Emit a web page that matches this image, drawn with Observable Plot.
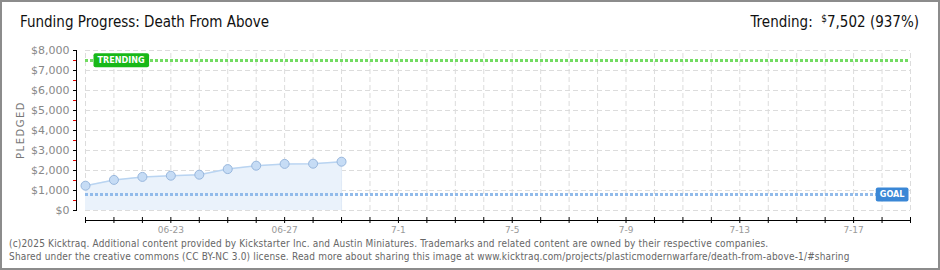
<!DOCTYPE html>
<html>
<head>
<meta charset="utf-8">
<script src="https://cdn.jsdelivr.net/npm/d3@7"></script>
<script src="https://cdn.jsdelivr.net/npm/@observablehq/plot@0.6"></script>
<style>
  html, body { margin: 0; padding: 0; background: #fff; }
  #wrap { position: relative; width: 940px; height: 270px; overflow: hidden; background: #fff; }
  #border { position: absolute; left: 0; top: 0; width: 940px; height: 270px; box-sizing: border-box; border: 2px solid #8c8c8c; pointer-events: none; }
  #title { position: absolute; left: 20px; top: 13px; line-height: 20px; font: 15px "DejaVu Sans Condensed", sans-serif; color: #111; white-space: nowrap; }
  #trend { position: absolute; right: 21px; top: 13px; line-height: 20px; font: 15px "DejaVu Sans Condensed", sans-serif; color: #111; white-space: nowrap; }
  #trend sup { font-size: 10px; vertical-align: 5px; line-height: 0; }
  #chart { position: absolute; left: 0; top: 40px; }
  #ylabel { position: absolute; left: 20px; top: 130px; transform: translate(-50%, -50%) rotate(-90deg); font: 10px "DejaVu Sans", sans-serif; color: #777; letter-spacing: 1.5px; white-space: nowrap; }
  #footer { position: absolute; left: 9px; top: 237px; font: 10px "DejaVu Sans Condensed", sans-serif; color: #666; line-height: 13px; white-space: nowrap; letter-spacing: 0.17px; }
</style>
</head>
<body>
<div id="wrap">
  <div id="title"></div>
  <div id="trend"></div>
  <div id="chart"></div>
  <div id="ylabel"></div>
  <div id="footer"></div>
  <div id="border"></div>
</div>
<script>
// ---- data ----
const dates = ["2025-06-20","2025-06-21","2025-06-22","2025-06-23","2025-06-24","2025-06-25","2025-06-26","2025-06-27","2025-06-28","2025-06-29"];
const pledged = [1240, 1530, 1680, 1740, 1790, 2070, 2240, 2330, 2340, 2440];
const trendingValue = 7502;
const trendingPct = "937%";
const goalValue = 800;
const xStartStr = "2025-06-20";
const xEndStr = "2025-07-19";
const labelDates = ["2025-06-23","2025-06-27","2025-07-01","2025-07-05","2025-07-09","2025-07-13","2025-07-17"];
const tickLabels = ["06-23","06-27","7-1","7-5","7-9","7-13","7-17"];
const yTicks = [0,1000,2000,3000,4000,5000,6000,7000,8000];
const yMinorTicks = [500,1500,2500,3500,4500,5500,6500,7500];
const titleText = "Funding Progress: Death From Above";
const yAxisTitle = "PLEDGED";
const trendLabel = "TRENDING";
const goalLabel = "GOAL";
const footerLines = [
  "(c)2025 Kicktraq. Additional content provided by Kickstarter Inc. and Austin Miniatures. Trademarks and related content are owned by their respective companies.",
  "Shared under the creative commons (CC BY-NC 3.0) license. Read more about sharing this image at www.kicktraq.com/projects/plasticmodernwarfare/death-from-above-1/#sharing"
];

// ---- build ----
const parse = d3.utcParse("%Y-%m-%d");
const xStart = parse(xStartStr), xEnd = parse(xEndStr);
const data = dates.map((d, i) => ({date: parse(d), pledged: pledged[i]}));
const days = d3.utcDay.range(xStart, d3.utcDay.offset(xEnd, 1));
const labelMap = new Map(labelDates.map((d, i) => [+parse(d), tickLabels[i]]));
const labelDays = labelDates.map(parse);

document.getElementById("title").textContent = titleText;
document.getElementById("trend").innerHTML = "Trending:&nbsp; <sup>$</sup>" + d3.format(",")(trendingValue) + " (" + trendingPct + ")";
document.getElementById("ylabel").textContent = yAxisTitle;
document.getElementById("footer").innerHTML = footerLines.map(l => "<div>" + l + "</div>").join("");

const grid = {stroke: "#dcdcdc", strokeDasharray: "5,3", strokeWidth: 1};

const chart = Plot.plot({
  width: 940,
  height: 200,
  marginLeft: 77,
  marginRight: 30,
  marginTop: 10,
  marginBottom: 20,
  style: {fontFamily: "DejaVu Sans, sans-serif", background: "transparent", overflow: "visible"},
  x: {type: "utc", domain: [xStart, xEnd], range: [85, 910], label: null},
  y: {domain: [0, 8000], range: [170, 10], label: null},
  marks: [
    Plot.ruleY(yTicks, {x1: xStart, x2: xEnd, ...grid}),
    Plot.ruleX(days, {y1: 0, y2: 8000, ...grid}),
    Plot.areaY(data, {x: "date", y: "pledged", fill: "#eaf2fb"}),
    Plot.ruleX([data[data.length - 1].date], {y1: 0, y2: data[data.length - 1].pledged, stroke: "#e0ebf8", strokeWidth: 1}),
    Plot.lineY(data, {x: "date", y: "pledged", stroke: "#b9d4f1", strokeWidth: 1.5}),
    Plot.ruleY([trendingValue], {x1: xStart, x2: xEnd, stroke: "#72dc62", strokeWidth: 3, strokeDasharray: "3,2"}),
    Plot.ruleY([goalValue], {x1: xStart, x2: xEnd, stroke: "#92bbea", strokeWidth: 3, strokeDasharray: "3,2"}),
    Plot.dot(data, {x: "date", y: "pledged", r: 4.5, fill: "#c6dcf5", stroke: "#98b7dd", strokeWidth: 1}),
    // axes
    Plot.ruleX([xStart], {y1: 0, y2: 8000, dx: -9, stroke: "#000"}),
    Plot.ruleY([0], {x1: xStart, x2: xEnd, dy: 10, stroke: "#000"}),
    Plot.axisY(yMinorTicks, {tickSize: 3, tickFormat: () => "", stroke: "#e00000", dx: -1, label: null}),
    Plot.axisY(yTicks, {tickSize: 4, tickPadding: 4, tickFormat: d => "$" + d3.format(",")(d), fill: "#888", fontSize: 11, stroke: "#000", label: null}),
    Plot.axisX(days, {tickSize: 6, dy: -3, tickFormat: () => "", stroke: "#000", label: null}),
    Plot.axisX(labelDays, {tickSize: 0, tickPadding: 6, tickFormat: d => labelMap.get(+d), fill: "#999", fontSize: 9, label: null}),
    // labels
    Plot.text([trendingValue], {x: xStart, y: d => d, text: () => trendLabel, dx: 12, textAnchor: "start", fill: "#fff", fontSize: 9, fontWeight: "bold", fontFamily: "DejaVu Sans Condensed"}),
    Plot.text([goalValue], {x: xEnd, y: d => d, text: () => goalLabel, dx: -6, textAnchor: "end", fill: "#fff", fontSize: 9, fontWeight: "bold", fontFamily: "DejaVu Sans Condensed"})
  ]
});
document.getElementById("chart").appendChild(chart);

// label boxes sized from the rendered text
const boxColors = {[trendLabel]: "#18b818", [goalLabel]: "#3a87d6"};
chart.querySelectorAll("text").forEach(t => {
  const c = boxColors[t.textContent];
  if (!c) return;
  const b = t.getBBox();
  const r = document.createElementNS("http://www.w3.org/2000/svg", "rect");
  r.setAttribute("x", b.x - 4);
  r.setAttribute("y", b.y + b.height / 2 - 7);
  r.setAttribute("width", b.width + 8);
  r.setAttribute("height", 14);
  r.setAttribute("rx", 2);
  r.setAttribute("fill", c);
  if (t.getAttribute("transform")) r.setAttribute("transform", t.getAttribute("transform"));
  t.parentNode.insertBefore(r, t);
});
</script>
</body>
</html>
